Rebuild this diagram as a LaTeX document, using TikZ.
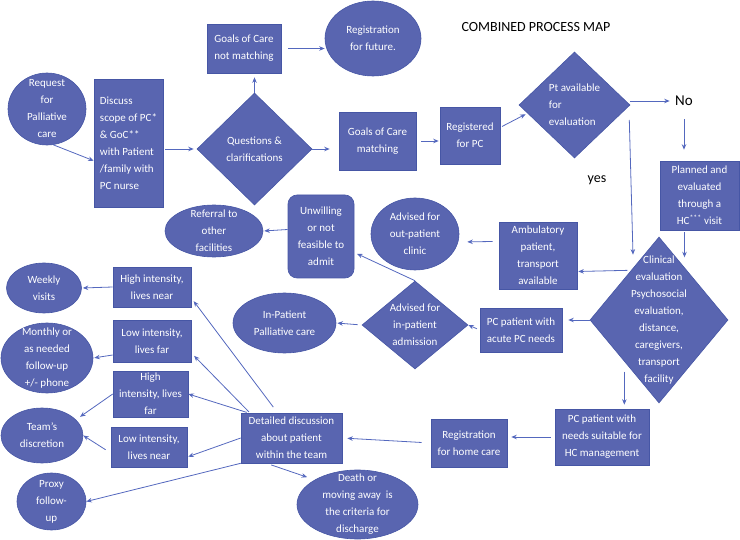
\documentclass[tikz,border=0pt]{standalone}
\usepackage{fontspec}
\setmainfont{Carlito}
\usetikzlibrary{shapes, arrows.meta, positioning, calc}
\definecolor{pcfill}{RGB}{89,101,176}
\definecolor{pcedge}{RGB}{70,86,165}
\definecolor{pcline}{RGB}{84,104,190}

\begin{document}
\begin{tikzpicture}[
    x=1pt, y=-1pt,
    word/.style={text=white, align=center, inner sep=0pt, font=\fontsize{11}{17}\selectfont},
    tile/.style={draw=pcedge, fill=pcfill, line width=0.6pt, inner sep=0pt},
    box/.style={rectangle, tile, label={[word]center:#1}},
    blob/.style={ellipse, tile, label={[word]center:#1}},
    choice/.style={diamond, tile, label={[word]center:#1}},
    arrow/.style={line width=0.8pt, pcline, -{Stealth[length=5.5pt, width=4.5pt]}}
]
    \useasboundingbox (0,0) rectangle (740,540);

    % top row
    \node [font=\fontsize{14}{16}\selectfont] (title) at (536,27) {COMBINED PROCESS MAP};
    \node [blob={Request\\for\\Palliative\\care}, minimum width=78, minimum height=72] (req) at (47,109) {};
    \node [tile, rectangle, minimum width=69, minimum height=128,
           label={[word, align=left]center:Discuss\\scope of PC*\\\& GoC**\\with Patient\\/family with\\PC nurse}] (disc) at (128.5,143) {};
    \node [choice={Questions \&\\clarifications}, minimum width=115, minimum height=112] (q) at (254.5,149) {};
    \node [box={Goals of Care\\not matching}, minimum width=74, minimum height=49] (gnm) at (244,48.5) {};
    \node [blob={Registration\\for future.}, minimum width=96, minimum height=75] (regf) at (373,38.5) {};
    \node [box={Goals of Care\\matching}, minimum width=77, minimum height=58] (gm) at (377.5,141) {};
    \node [box={Registered\\for PC}, minimum width=60, minimum height=57] (regpc) at (470,135.5) {};
    \node [tile, diamond, minimum width=111, minimum height=106,
           label={[word, align=left]center:Pt available\\for\\evaluation}] (avail) at (574.5,105) {};
    \node [font=\fontsize{15}{17}\selectfont] (no) at (684,101) {No};
    \node [font=\fontsize{14}{16}\selectfont] (yes) at (597,180) {yes};
    \node [box={Planned and\\evaluated\\through a\\HC\textsuperscript{***} visit}, minimum width=79, minimum height=69] (planned) at (699.5,195.5) {};

    % middle
    \node [choice={Clinical\\evaluation\\Psychosocial\\evaluation,\\distance,\\caregivers,\\transport\\facility}, minimum width=138, minimum height=166] (clin) at (659,320) {};
    \node [box={Ambulatory\\patient,\\transport\\available}, minimum width=78, minimum height=67] (amb) at (538,255.5) {};
    \node [blob={Advised for\\out-patient\\clinic}, minimum width=88, minimum height=72] (opc) at (415,234) {};
    \node [box={Unwilling\\or not\\feasible to\\admit}, rounded corners=9pt, minimum width=66, minimum height=83] (unw) at (321,236.5) {};
    \node [blob={Referral to\\other\\facilities}, minimum width=98, minimum height=52] (refo) at (214,231) {};
    \node [box={PC patient with\\acute PC needs}, minimum width=82, minimum height=44] (acute) at (521,330) {};
    \node [choice={Advised for\\in-patient\\admission}, minimum width=106, minimum height=88] (advin) at (415,325) {};
    \node [blob={In-Patient\\Palliative care}, minimum width=103, minimum height=60] (inpc) at (284.5,323) {};

    % bottom
    \node [box={PC patient with\\needs suitable for\\HC management}, minimum width=94, minimum height=56] (hcmgmt) at (602,437) {};
    \node [box={Registration\\for home care}, minimum width=76, minimum height=48] (reghc) at (469,443) {};
    \node [box={Detailed discussion\\about patient\\within the team}, minimum width=101, minimum height=50] (detail) at (291.5,438) {};
    \node [blob={Death or\\moving away\ \ is\\the criteria for\\discharge}, minimum width=121, minimum height=69] (death) at (357.5,504.5) {};

    % left column
    \node [box={High intensity,\\lives near}, minimum width=78, minimum height=40] (hin) at (152,287) {};
    \node [box={Low intensity,\\lives far}, minimum width=78, minimum height=42] (lfar) at (152,341) {};
    \node [box={High\\intensity, lives\\far}, minimum width=75, minimum height=46] (hfar) at (150.5,394) {};
    \node [box={Low intensity,\\lives near}, minimum width=76, minimum height=40] (lnear) at (149,447) {};
    \node [blob={Weekly\\visits}, minimum width=75, minimum height=50] (weekly) at (44,288) {};
    \node [blob={Monthly or\\as needed\\follow-up\\+/- phone}, minimum width=92, minimum height=70] (monthly) at (47,358) {};
    \node [blob={Team’s\\discretion}, minimum width=82, minimum height=55] (team) at (42,435.5) {};
    \node [blob={Proxy\\follow-\\up}, minimum width=69, minimum height=57] (proxy) at (51.5,501.5) {};

    % connectors
    \draw [arrow] (req.280) -- (disc.207);
    \draw [arrow, shorten <=2pt, shorten >=3pt] (disc.east |- q.west) -- (q.west);
    \draw [arrow, shorten >=4pt] (q.north) -- (q.north |- gnm.south);
    \draw [arrow, shorten <=7pt] (gnm.east) -- (gnm.east -| regf.west);
    \draw [arrow, shorten >=9pt] (q.east) -- (q.east -| gm.west);
    \draw [arrow, shorten <=5pt, shorten >=1pt] (gm.east) -- (gm.east -| regpc.west);
    \draw [arrow, shorten <=2pt, shorten >=2pt] (regpc.15) -- (avail.190);
    \draw [arrow, shorten >=2pt] (no.west -| avail.east) -- (no.west);
    \draw [arrow, shorten <=10pt, shorten >=11pt] (no.south) -- (no.south |- planned.north);
    \draw [arrow] ([shift={(-1pt,-15pt)}]avail.east) -- ([shift={(-26pt,-18pt)}]clin.north);
    \draw [arrow] ([shift={(-15pt,-2pt)}]planned.south) -- ([shift={(-15pt,-27pt)}]planned.south);
    \draw [arrow, shorten >=1pt] ([shift={(3pt,8pt)}]clin.north west) -- ([yshift=-16pt]amb.east);
    \draw [arrow, shorten >=8pt] ([shift={(-6pt,14pt)}]amb.west) -- ([yshift=-8pt]opc.east);
    \draw [arrow, shorten >=6pt] (clin.west) -- (clin.west -| acute.east);
    \draw [arrow, shorten <=3pt] (acute.west) -- (advin.east);
    \draw [arrow, shorten <=4pt, shorten >=1pt] (advin.west) -- (inpc.east);
    \draw [arrow, shorten >=3pt] (advin.north) -- ([yshift=-16pt]unw.east);
    \draw [arrow, shorten >=1pt] ([yshift=7pt]unw.west) -- (refo.east);
    \draw [arrow, shorten <=10pt, shorten >=4pt] (clin.south west) -- (clin.south west |- hcmgmt.north);
    \draw [arrow, shorten <=4pt, shorten >=4pt] (hcmgmt.west) -- (hcmgmt.west -| reghc.east);
    \draw [arrow, shorten <=9pt, shorten >=5pt] (reghc.west) -- (detail.east);
    \draw [arrow, shorten <=5pt, shorten >=8pt] ([xshift=-25pt]detail.south) -- (death.150);
    \draw [arrow, shorten <=7pt, shorten >=4pt] ([xshift=-14pt]detail.north) -- ([yshift=-11pt]hin.east);
    \draw [arrow, shorten <=1pt, shorten >=4pt] ([xshift=9pt]detail.north west) -- ([yshift=-12pt]lfar.east);
    \draw [arrow, shorten <=1pt] ([xshift=7pt]detail.north west) -- (hfar.east);
    \draw [arrow, shorten >=1pt] (detail.west) -- ([yshift=-10pt]lnear.east);
    \draw [arrow] (detail.south west) -- (proxy.east);
    \draw [arrow, shorten >=1pt] (hin.west) -- (weekly.east);
    \draw [arrow, shorten >=1pt] ([yshift=-14pt]lfar.west) -- (monthly.east);
    \draw [arrow, shorten >=5pt] (hfar.west) -- (team.25);
    \draw [arrow, shorten <=6pt] ([yshift=-6pt]lnear.west) -- (team.east);
\end{tikzpicture}
\end{document}
